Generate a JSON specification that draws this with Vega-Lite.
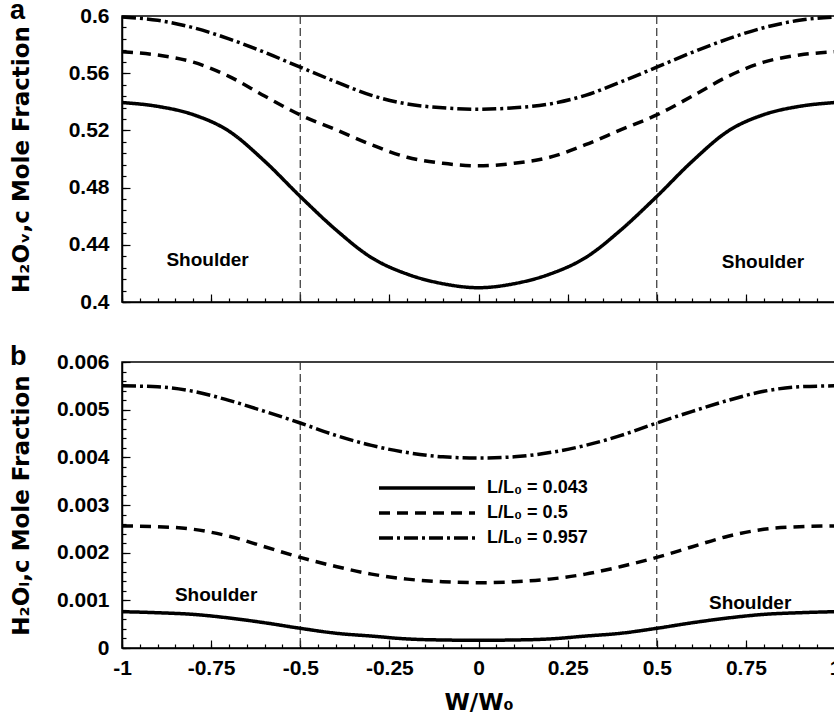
{
  "$schema": "https://vega.github.io/schema/vega-lite/v6.json",
  "background": "white",
  "padding": {"left": 9, "top": -4, "right": 0, "bottom": 0},
  "config": {
    "font": "Liberation Sans",
    "view": {"stroke": "black", "strokeWidth": 1.5},
    "axis": {
      "domainColor": "black", "domainWidth": 1.5,
      "tickColor": "black", "tickWidth": 1.2,
      "labelFont": "Liberation Sans", "labelFontWeight": "bold", "labelFontSize": 21, "labelColor": "black",
      "titleFont": "DejaVu Sans", "titleFontWeight": "bold", "titleColor": "black",
      "grid": false, "labelFlush": false, "labelOverlap": false
    },
    "legend": {"labelFont": "Liberation Sans", "labelColor": "black"},
    "title": {"font": "Liberation Sans", "fontWeight": "bold", "fontSize": 27, "color": "black", "anchor": "start", "frame": "bounds"}
  },
  "datasets": {
    "a": [
      {"s":"0.043","x":-1,"y":0.5395},{"s":"0.043","x":-0.9,"y":0.5368},{"s":"0.043","x":-0.8,"y":0.531},{"s":"0.043","x":-0.7,"y":0.5195},{"s":"0.043","x":-0.6,"y":0.4985},{"s":"0.043","x":-0.5,"y":0.4738},{"s":"0.043","x":-0.4,"y":0.4505},{"s":"0.043","x":-0.3,"y":0.431},{"s":"0.043","x":-0.2,"y":0.4195},{"s":"0.043","x":-0.1,"y":0.4128},{"s":"0.043","x":0,"y":0.41},{"s":"0.043","x":0.1,"y":0.4128},{"s":"0.043","x":0.2,"y":0.4195},{"s":"0.043","x":0.3,"y":0.431},{"s":"0.043","x":0.4,"y":0.4505},{"s":"0.043","x":0.5,"y":0.4738},{"s":"0.043","x":0.6,"y":0.4985},{"s":"0.043","x":0.7,"y":0.5195},{"s":"0.043","x":0.8,"y":0.531},{"s":"0.043","x":0.9,"y":0.5368},{"s":"0.043","x":1,"y":0.5395},
      {"s":"0.5","x":-1,"y":0.575},{"s":"0.5","x":-0.9,"y":0.5727},{"s":"0.5","x":-0.8,"y":0.5677},{"s":"0.5","x":-0.7,"y":0.5578},{"s":"0.5","x":-0.6,"y":0.544},{"s":"0.5","x":-0.5,"y":0.5308},{"s":"0.5","x":-0.4,"y":0.5205},{"s":"0.5","x":-0.3,"y":0.51},{"s":"0.5","x":-0.2,"y":0.5012},{"s":"0.5","x":-0.1,"y":0.497},{"s":"0.5","x":0,"y":0.4952},{"s":"0.5","x":0.1,"y":0.497},{"s":"0.5","x":0.2,"y":0.5012},{"s":"0.5","x":0.3,"y":0.51},{"s":"0.5","x":0.4,"y":0.5205},{"s":"0.5","x":0.5,"y":0.5308},{"s":"0.5","x":0.6,"y":0.544},{"s":"0.5","x":0.7,"y":0.5578},{"s":"0.5","x":0.8,"y":0.5677},{"s":"0.5","x":0.9,"y":0.5727},{"s":"0.5","x":1,"y":0.575},
      {"s":"0.957","x":-1,"y":0.5993},{"s":"0.957","x":-0.9,"y":0.597},{"s":"0.957","x":-0.8,"y":0.5918},{"s":"0.957","x":-0.7,"y":0.584},{"s":"0.957","x":-0.6,"y":0.5746},{"s":"0.957","x":-0.5,"y":0.5642},{"s":"0.957","x":-0.4,"y":0.554},{"s":"0.957","x":-0.3,"y":0.5445},{"s":"0.957","x":-0.2,"y":0.5385},{"s":"0.957","x":-0.1,"y":0.5358},{"s":"0.957","x":0,"y":0.5348},{"s":"0.957","x":0.1,"y":0.5358},{"s":"0.957","x":0.2,"y":0.5385},{"s":"0.957","x":0.3,"y":0.5445},{"s":"0.957","x":0.4,"y":0.554},{"s":"0.957","x":0.5,"y":0.5642},{"s":"0.957","x":0.6,"y":0.5746},{"s":"0.957","x":0.7,"y":0.584},{"s":"0.957","x":0.8,"y":0.5918},{"s":"0.957","x":0.9,"y":0.597},{"s":"0.957","x":1,"y":0.5993}
    ],
    "b": [
      {"s":"0.043","x":-1,"y":0.000762},{"s":"0.043","x":-0.9,"y":0.00074},{"s":"0.043","x":-0.8,"y":0.000705},{"s":"0.043","x":-0.7,"y":0.00063},{"s":"0.043","x":-0.6,"y":0.00053},{"s":"0.043","x":-0.5,"y":0.000413},{"s":"0.043","x":-0.4,"y":0.00031},{"s":"0.043","x":-0.3,"y":0.00025},{"s":"0.043","x":-0.2,"y":0.00019},{"s":"0.043","x":-0.1,"y":0.000168},{"s":"0.043","x":0,"y":0.000162},{"s":"0.043","x":0.1,"y":0.000168},{"s":"0.043","x":0.2,"y":0.00019},{"s":"0.043","x":0.3,"y":0.00025},{"s":"0.043","x":0.4,"y":0.00031},{"s":"0.043","x":0.5,"y":0.000413},{"s":"0.043","x":0.6,"y":0.00053},{"s":"0.043","x":0.7,"y":0.00063},{"s":"0.043","x":0.8,"y":0.000705},{"s":"0.043","x":0.9,"y":0.00074},{"s":"0.043","x":1,"y":0.000762},
      {"s":"0.5","x":-1,"y":0.00256},{"s":"0.5","x":-0.9,"y":0.002545},{"s":"0.5","x":-0.8,"y":0.00249},{"s":"0.5","x":-0.7,"y":0.002345},{"s":"0.5","x":-0.6,"y":0.002125},{"s":"0.5","x":-0.5,"y":0.0019},{"s":"0.5","x":-0.4,"y":0.00171},{"s":"0.5","x":-0.3,"y":0.00155},{"s":"0.5","x":-0.2,"y":0.001445},{"s":"0.5","x":-0.1,"y":0.00139},{"s":"0.5","x":0,"y":0.00137},{"s":"0.5","x":0.1,"y":0.00139},{"s":"0.5","x":0.2,"y":0.001445},{"s":"0.5","x":0.3,"y":0.00155},{"s":"0.5","x":0.4,"y":0.00171},{"s":"0.5","x":0.5,"y":0.0019},{"s":"0.5","x":0.6,"y":0.002125},{"s":"0.5","x":0.7,"y":0.002345},{"s":"0.5","x":0.8,"y":0.00249},{"s":"0.5","x":0.9,"y":0.002545},{"s":"0.5","x":1,"y":0.00256},
      {"s":"0.957","x":-1,"y":0.0055},{"s":"0.957","x":-0.9,"y":0.00548},{"s":"0.957","x":-0.8,"y":0.005385},{"s":"0.957","x":-0.7,"y":0.005195},{"s":"0.957","x":-0.6,"y":0.004965},{"s":"0.957","x":-0.5,"y":0.00472},{"s":"0.957","x":-0.4,"y":0.00446},{"s":"0.957","x":-0.3,"y":0.00425},{"s":"0.957","x":-0.2,"y":0.0041},{"s":"0.957","x":-0.1,"y":0.00401},{"s":"0.957","x":0,"y":0.003985},{"s":"0.957","x":0.1,"y":0.00401},{"s":"0.957","x":0.2,"y":0.0041},{"s":"0.957","x":0.3,"y":0.00425},{"s":"0.957","x":0.4,"y":0.00446},{"s":"0.957","x":0.5,"y":0.00472},{"s":"0.957","x":0.6,"y":0.004965},{"s":"0.957","x":0.7,"y":0.005195},{"s":"0.957","x":0.8,"y":0.005385},{"s":"0.957","x":0.9,"y":0.00548},{"s":"0.957","x":1,"y":0.0055}
    ],
    "vl": [{"x": -0.5}, {"x": 0.5}],
    "sa": [{"t": "Shoulder", "x": -0.76, "y": 0.4294}, {"t": "Shoulder", "x": 0.798, "y": 0.428}],
    "sb": [{"t": "Shoulder", "x": -0.736, "y": 0.00111}, {"t": "Shoulder", "x": 0.762, "y": 0.000944}]
  },
  "spacing": 29,
  "resolve": {"legend": {"strokeDash": "independent"}},
  "vconcat": [
    {
      "width": 713, "height": 286,
      "title": {"text": "a", "baseline": "alphabetic", "offset": -41},
      "resolve": {"axis": {"x": "independent", "y": "independent"}},
      "layer": [
        {
          "data": {"name": "vl"},
          "mark": {"type": "rule", "strokeDash": [8, 4], "color": "#333333", "strokeWidth": 1.2},
          "encoding": {"x": {"field": "x", "type": "quantitative", "scale": {"domain": [-1, 1], "nice": false, "zero": false}, "axis": null}}
        },
        {
          "data": {"name": "a"},
          "mark": {"type": "line", "color": "black", "strokeWidth": 3.5, "interpolate": "monotone"},
          "encoding": {
            "x": {
              "field": "x", "type": "quantitative",
              "scale": {"domain": [-1, 1], "nice": false, "zero": false},
              "axis": {
                "title": null, "labels": false, "orient": "bottom",
                "values": [-1,-0.75,-0.5,-0.25,0,0.25,0.5,0.75,1],
                "tickSize": -8
              }
            },
            "y": {
              "field": "y", "type": "quantitative",
              "scale": {"domain": [0.4, 0.6], "nice": false, "zero": false},
              "axis": {
                "title": "H₂Oᵥ,c Mole Fraction", "titleFontSize": 23, "titleX": -89, "orient": "left",
                "values": [0.4,0.44,0.48,0.52,0.56,0.6],
                "format": ".2~f",
                "labelPadding": 21, "tickSize": -8
              }
            },
            "strokeDash": {
              "field": "s", "type": "nominal",
              "scale": {"domain": ["0.043", "0.5", "0.957"], "range": [[1, 0], [11, 7], [14, 4, 3, 4]]},
              "legend": null
            }
          }
        },
        {
          "data": {"name": "sa"},
          "mark": {"type": "text", "fontSize": 19, "fontWeight": "bold", "font": "Liberation Sans", "color": "black"},
          "encoding": {
            "x": {
              "field": "x", "type": "quantitative",
              "scale": {"domain": [-1, 1], "nice": false, "zero": false},
              "axis": {
                "title": null, "labels": false, "domain": false, "orient": "bottom", "tickSize": -4,
                "values": [-1,-0.95,-0.9,-0.85,-0.8,-0.75,-0.7,-0.65,-0.6,-0.55,-0.5,-0.45,-0.4,-0.35,-0.3,-0.25,-0.2,-0.15,-0.1,-0.05,0,0.05,0.1,0.15,0.2,0.25,0.3,0.35,0.4,0.45,0.5,0.55,0.6,0.65,0.7,0.75,0.8,0.85,0.9,0.95,1]
              }
            },
            "y": {
              "field": "y", "type": "quantitative",
              "scale": {"domain": [0.4, 0.6], "nice": false, "zero": false},
              "axis": {
                "title": null, "labels": false, "domain": false, "orient": "left", "tickSize": -4,
                "values": [0.4,0.408,0.416,0.424,0.432,0.44,0.448,0.456,0.464,0.472,0.48,0.488,0.496,0.504,0.512,0.52,0.528,0.536,0.544,0.552,0.56,0.568,0.576,0.584,0.592,0.6]
              }
            },
            "text": {"field": "t"}
          }
        }
      ]
    },
    {
      "width": 713, "height": 286,
      "title": {"text": "b", "baseline": "alphabetic", "offset": -41},
      "resolve": {"axis": {"x": "independent", "y": "independent"}},
      "layer": [
        {
          "data": {"name": "vl"},
          "mark": {"type": "rule", "strokeDash": [8, 4], "color": "#333333", "strokeWidth": 1.2},
          "encoding": {"x": {"field": "x", "type": "quantitative", "scale": {"domain": [-1, 1], "nice": false, "zero": false}, "axis": null}}
        },
        {
          "data": {"name": "b"},
          "mark": {"type": "line", "color": "black", "strokeWidth": 3.5, "interpolate": "monotone"},
          "encoding": {
            "x": {
              "field": "x", "type": "quantitative",
              "scale": {"domain": [-1, 1], "nice": false, "zero": false},
              "axis": {
                "title": "W/W₀", "titleFontSize": 23, "titlePadding": 13, "orient": "bottom",
                "values": [-1,-0.75,-0.5,-0.25,0,0.25,0.5,0.75,1],
                "labelExpr": "'' + datum.value",
                "labelPadding": 17, "tickSize": -8
              }
            },
            "y": {
              "field": "y", "type": "quantitative",
              "scale": {"domain": [0, 0.006], "nice": false, "zero": false},
              "axis": {
                "title": "H₂Oₗ,c Mole Fraction", "titleFontSize": 23, "titleX": -89, "orient": "left",
                "values": [0,0.001,0.002,0.003,0.004,0.005,0.006],
                "format": ".3~f",
                "labelPadding": 21, "tickSize": -8
              }
            },
            "strokeDash": {
              "field": "s", "type": "nominal",
              "scale": {"domain": ["0.043", "0.5", "0.957"], "range": [[1, 0], [11, 7], [14, 4, 3, 4]]},
              "legend": {
                "orient": "none", "legendX": 296, "legendY": 117, "title": null,
                "symbolType": "M-8,0H8", "symbolSize": 144, "symbolStrokeWidth": 3.5, "symbolStrokeColor": "black",
                "labelFontSize": 18, "labelFontWeight": "bold",
                "labelExpr": "'L/L₀ = ' + datum.label",
                "labelOffset": 51, "rowPadding": 7
              }
            }
          }
        },
        {
          "data": {"name": "sb"},
          "mark": {"type": "text", "fontSize": 19, "fontWeight": "bold", "font": "Liberation Sans", "color": "black"},
          "encoding": {
            "x": {
              "field": "x", "type": "quantitative",
              "scale": {"domain": [-1, 1], "nice": false, "zero": false},
              "axis": {
                "title": null, "labels": false, "domain": false, "orient": "bottom", "tickSize": -4,
                "values": [-1,-0.95,-0.9,-0.85,-0.8,-0.75,-0.7,-0.65,-0.6,-0.55,-0.5,-0.45,-0.4,-0.35,-0.3,-0.25,-0.2,-0.15,-0.1,-0.05,0,0.05,0.1,0.15,0.2,0.25,0.3,0.35,0.4,0.45,0.5,0.55,0.6,0.65,0.7,0.75,0.8,0.85,0.9,0.95,1]
              }
            },
            "y": {
              "field": "y", "type": "quantitative",
              "scale": {"domain": [0, 0.006], "nice": false, "zero": false},
              "axis": {
                "title": null, "labels": false, "domain": false, "orient": "left", "tickSize": -4,
                "values": [0,0.0002,0.0004,0.0006,0.0008,0.001,0.0012,0.0014,0.0016,0.0018,0.002,0.0022,0.0024,0.0026,0.0028,0.003,0.0032,0.0034,0.0036,0.0038,0.004,0.0042,0.0044,0.0046,0.0048,0.005,0.0052,0.0054,0.0056,0.0058,0.006]
              }
            },
            "text": {"field": "t"}
          }
        }
      ]
    }
  ]
}
